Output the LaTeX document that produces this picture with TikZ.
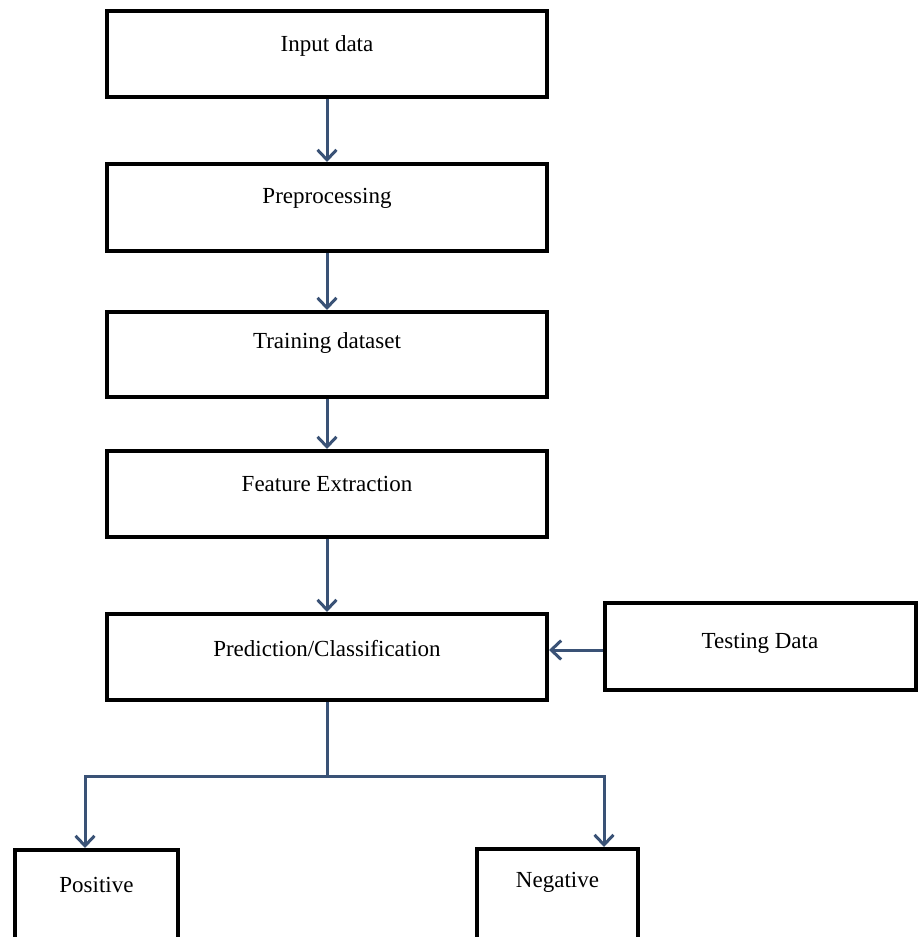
\documentclass[tikz,border=0pt]{standalone}
\usepackage{fontspec}
\setmainfont{Liberation Serif}
\usetikzlibrary{arrows.meta,calc}
\definecolor{arrowc}{RGB}{58,82,118}
\tikzset{
  box/.style={draw=black, line width=4pt, fill=white, inner sep=0pt, outer sep=2pt},
  txt/.style={font=\fontsize{23}{26}\selectfont, inner sep=0pt},
  flow/.style={draw=arrowc, line width=3pt, -{Straight Barb[length=10pt,width=19pt]}},
  link/.style={draw=arrowc, line width=3pt},
}
\begin{document}
\begin{tikzpicture}[x=1pt,y=-1pt]
\useasboundingbox (0,0) rectangle (918,937);
\clip (0,0) rectangle (918,937);
% main column
\node[box, minimum width=440pt, minimum height=86pt,
  label={[txt,yshift=8pt]center:Input data}] (b1) at (327,54) {};
\node[box, minimum width=440pt, minimum height=87pt,
  label={[txt,yshift=9pt]center:Preprocessing}] (b2) at (327,207.5) {};
\node[box, minimum width=440pt, minimum height=85pt,
  label={[txt,yshift=12pt]center:Training dataset}] (b3) at (327,354.5) {};
\node[box, minimum width=440pt, minimum height=86pt,
  label={[txt,yshift=10pt]center:Feature Extraction}] (b4) at (327,494) {};
\node[box, minimum width=440pt, minimum height=86pt,
  label={[txt,yshift=8pt]center:Prediction/Classification}] (b5) at (327,657) {};
\node[box, minimum width=311pt, minimum height=87pt,
  label={[txt,yshift=3pt]center:Testing Data}] (td) at (760,646.5) {};
% outputs (bottom edge outside the picture)
\node[box, minimum width=163pt, minimum height=100pt, anchor=north,
  label={[txt,yshift=-45pt]north:Positive}] (pos) at (96.5,848) {};
\node[box, minimum width=161pt, minimum height=100pt, anchor=north,
  label={[txt,yshift=-46pt]north:Negative}] (neg) at (557.5,847) {};
% connectors
\draw[flow] (b1) -- (b2);
\draw[flow] (b2) -- (b3);
\draw[flow] (b3) -- (b4);
\draw[flow] (b4) -- (b5);
\draw[flow] (td.west |- 0,650) -- (b5.east |- 0,650);
\coordinate (split) at (327,776);
\draw[link] (b5.south) -- (split);
\draw[flow] (split) -| (85,848);
\draw[flow] (split) -| (604,847);
\end{tikzpicture}
\end{document}
